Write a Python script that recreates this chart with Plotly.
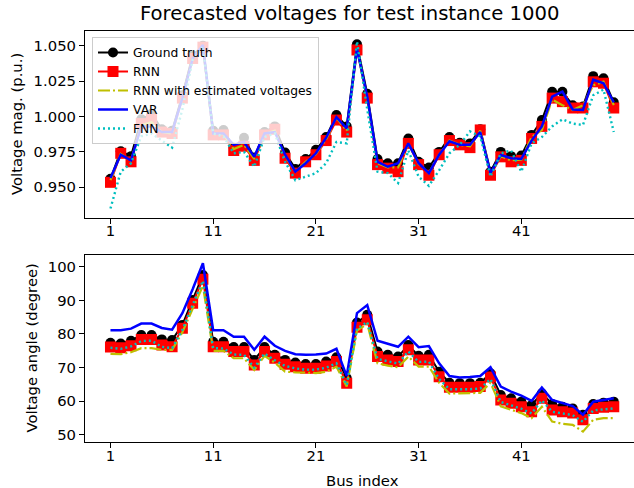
import plotly.graph_objects as go

bus = list(range(1, 51))
x_ticks = [1, 11, 21, 31, 41]
mag_ticks = [0.950, 0.975, 1.000, 1.025, 1.050]
ang_ticks = [50, 60, 70, 80, 90, 100]

gt_mag = [0.956, 0.9755, 0.972, 0.998, 1.002, 0.991, 0.990, 1.015, 1.043, 1.050,
          0.990, 0.9905, 0.978, 0.985, 0.971, 0.989, 0.993, 0.9745, 0.963, 0.970,
          0.9765, 0.9855, 1.001, 0.993, 1.051, 1.016, 0.970, 0.967, 0.967, 0.9845,
          0.968, 0.964, 0.975, 0.9855, 0.9815, 0.981, 0.991, 0.961, 0.975, 0.972,
          0.9725, 0.987, 0.9975, 1.0175, 1.0175, 1.008, 1.007, 1.0285, 1.027, 1.010]
rnn_mag = [0.9535, 0.974, 0.968, 0.995, 0.998, 0.989, 0.988, 1.013, 1.041, 1.049,
           0.987, 0.987, 0.976, 0.979, 0.969, 0.987, 0.991, 0.9705, 0.960, 0.968,
           0.973, 0.983, 0.9975, 0.989, 1.047, 1.013, 0.966, 0.9635, 0.961, 0.981,
           0.966, 0.9585, 0.973, 0.983, 0.980, 0.978, 0.9905, 0.9585, 0.9715, 0.968,
           0.969, 0.9845, 0.993, 1.013, 1.0105, 1.006, 1.006, 1.0245, 1.0235, 1.006]
rnn_est_mag = [0.955, 0.9735, 0.9685, 0.994, 0.996, 0.989, 0.988, 1.013, 1.041, 1.049,
               0.9875, 0.9875, 0.977, 0.980, 0.970, 0.9875, 0.990, 0.972, 0.961, 0.968,
               0.9735, 0.984, 0.999, 0.990, 1.048, 1.013, 0.967, 0.964, 0.964, 0.981,
               0.9665, 0.960, 0.973, 0.983, 0.980, 0.979, 0.990, 0.9595, 0.972, 0.969,
               0.9695, 0.9855, 0.9905, 1.012, 1.008, 1.0046, 1.008, 1.022, 1.0246, 1.008]
var_mag = [0.9565, 0.973, 0.969, 0.993, 0.993, 0.989, 0.989, 1.013, 1.041, 1.0505,
           0.988, 0.988, 0.980, 0.982, 0.9715, 0.988, 0.989, 0.973, 0.961, 0.967,
           0.974, 0.985, 0.9995, 0.9915, 1.048, 1.014, 0.968, 0.9645, 0.967, 0.981,
           0.967, 0.960, 0.973, 0.9825, 0.980, 0.980, 0.989, 0.960, 0.9728, 0.9705,
           0.970, 0.983, 0.993, 1.014, 1.0175, 1.005, 1.0046, 1.026, 1.0235, 1.010]
fnn_mag = [0.935, 0.961, 0.967, 0.986, 0.988, 0.983, 0.978, 1.005, 1.040, 1.049,
           0.988, 0.986, 0.974, 0.975, 0.9645, 0.9855, 0.988, 0.968, 0.955, 0.9575,
           0.960, 0.967, 0.982, 0.981, 1.053, 1.005, 0.961, 0.960, 0.953, 0.976,
           0.9575, 0.951, 0.962, 0.974, 0.980, 0.9895, 0.986, 0.9575, 0.974, 0.976,
           0.961, 0.981, 0.9855, 0.993, 0.998, 0.995, 0.994, 1.015, 1.019, 0.989]

gt_ang = [77.4, 77.2, 78.0, 79.7, 79.7, 78.4, 78.2, 82.7, 90.1, 97.5,
          77.7, 77.7, 76.1, 76.1, 72.3, 76.1, 73.8, 72.3, 71.5, 71.1,
          71.1, 71.8, 73.1, 66.9, 83.4, 85.7, 74.8, 73.8, 73.3, 76.7,
          73.5, 73.8, 68.8, 65.5, 65.4, 65.4, 65.5, 68.3, 61.9, 60.9,
          59.9, 58.9, 62.4, 59.2, 58.4, 57.9, 56.0, 59.2, 59.6, 59.9]
rnn_ang = [76.1, 75.9, 76.5, 78.4, 78.4, 76.7, 76.2, 81.7, 89.1, 96.3,
           76.2, 76.2, 74.8, 74.8, 70.8, 74.8, 72.8, 71.0, 70.3, 69.8,
           69.8, 70.5, 71.8, 65.4, 82.0, 84.2, 73.3, 72.3, 71.8, 75.3,
           72.3, 72.3, 67.3, 64.2, 64.2, 64.2, 64.4, 67.2, 60.4, 59.4,
           58.4, 56.9, 60.9, 57.4, 56.9, 56.5, 54.5, 57.9, 58.2, 58.4]
rnn_est_ang = [74.1, 74.0, 74.6, 75.8, 75.8, 75.3, 75.3, 80.5, 87.5, 94.3,
               75.0, 75.0, 72.8, 72.8, 69.3, 73.5, 71.5, 68.8, 68.6, 68.4,
               68.4, 68.8, 70.3, 64.4, 81.0, 83.0, 71.3, 70.6, 70.1, 73.3,
               70.3, 70.3, 65.5, 62.3, 62.3, 62.3, 62.5, 65.5, 58.5, 57.5,
               56.5, 55.0, 58.4, 54.0, 53.3, 53.0, 51.0, 54.5, 55.0, 55.0]
var_ang = [81.1, 81.1, 81.6, 83.1, 83.1, 81.8, 81.3, 86.2, 93.3, 101.0,
           81.1, 81.1, 79.2, 79.2, 75.3, 79.2, 76.5, 75.0, 74.0, 73.8,
           73.9, 74.2, 75.6, 67.5, 86.2, 88.6, 78.0, 77.2, 76.2, 79.2,
           76.1, 76.4, 71.3, 67.5, 67.1, 67.2, 67.5, 70.1, 64.4, 62.9,
           61.7, 60.1, 64.1, 60.4, 59.6, 58.6, 56.0, 59.9, 60.4, 60.9]
fnn_ang = [75.9, 75.6, 76.3, 77.9, 78.0, 76.2, 75.8, 81.2, 88.6, 95.8,
           75.8, 75.7, 73.9, 73.8, 70.0, 74.2, 72.2, 70.5, 69.8, 69.4,
           69.4, 70.0, 71.3, 64.8, 81.6, 83.6, 72.6, 71.8, 71.2, 74.8,
           71.7, 71.8, 66.6, 63.6, 63.5, 63.6, 63.8, 66.6, 59.8, 58.8,
           57.8, 56.4, 60.3, 56.9, 56.3, 55.9, 53.9, 57.3, 57.6, 57.9]

FONT = "DejaVu Sans"
W, H = 634, 488
ML = 85

fig = go.Figure()

def add_series(xa, ya, gt, rnn, est, var, fnn, show):
    fig.add_trace(go.Scatter(x=bus, y=gt, name="Ground truth", mode="lines+markers",
                             line=dict(color="black", width=2),
                             marker=dict(symbol="circle", size=10, color="black"),
                             xaxis=xa, yaxis=ya, showlegend=show))
    fig.add_trace(go.Scatter(x=bus, y=rnn, name="RNN", mode="lines+markers",
                             line=dict(color="#ff0000", width=2),
                             marker=dict(symbol="square", size=11, color="#ff0000"),
                             xaxis=xa, yaxis=ya, showlegend=show))
    fig.add_trace(go.Scatter(x=bus, y=est, name="RNN with estimated voltages", mode="lines",
                             line=dict(color="#bfbf00", width=2.2, dash="12px,3px,2px,3px"),
                             xaxis=xa, yaxis=ya, showlegend=show))
    fig.add_trace(go.Scatter(x=bus, y=var, name="VAR", mode="lines",
                             line=dict(color="#0000ff", width=2.5),
                             xaxis=xa, yaxis=ya, showlegend=show))
    fig.add_trace(go.Scatter(x=bus, y=fnn, name="FNN", mode="lines",
                             line=dict(color="#00bfbf", width=2.4, dash="2px,3px"),
                             xaxis=xa, yaxis=ya, showlegend=show))

add_series("x", "y", gt_mag, rnn_mag, rnn_est_mag, var_mag, fnn_mag, True)
add_series("x2", "y2", gt_ang, rnn_ang, rnn_est_ang, var_ang, fnn_ang, False)

def ydom(top_px, bot_px):
    return [1 - bot_px / H, 1 - top_px / H]

xr = [-1.48, 51.97]
axis_common = dict(showgrid=False, zeroline=False, showline=True, linecolor="black",
                   linewidth=1.1, ticks="outside", ticklen=5, tickwidth=1.1,
                   tickcolor="black", tickfont=dict(family=FONT, size=14.8, color="black"))

fig.update_layout(
    width=W, height=H,
    margin=dict(l=ML, r=0, t=0, b=0),
    plot_bgcolor="white", paper_bgcolor="white",
    font=dict(family=FONT, color="black"),
    xaxis=dict(domain=[0, 1], range=xr, tickvals=x_ticks, mirror=True, anchor="y",
               ticklabelstandoff=-6, **axis_common),
    yaxis=dict(domain=ydom(31, 218), range=[0.9283, 1.0604], tickvals=mag_ticks,
               tickformat=".3f", anchor="x", **axis_common),
    xaxis2=dict(domain=[0, 1], range=xr, tickvals=x_ticks, mirror=True, anchor="y2",
                ticklabelstandoff=-5, **axis_common),
    yaxis2=dict(domain=ydom(255, 441.7), range=[48.0, 103.47], tickvals=ang_ticks,
                anchor="x2", **axis_common),
    legend=dict(x=(92 - ML) / (W - ML), y=1 - 37 / H, xanchor="left", yanchor="top",
                bgcolor="rgba(255,255,255,0.8)", bordercolor="#cccccc", borderwidth=1,
                font=dict(family=FONT, size=12.3, color="black"), tracegroupgap=0),
    showlegend=True,
)

pw = W - ML
def px_x(p):
    return (p - ML) / pw

fig.add_annotation(text="Forecasted voltages for test instance 1000", xref="paper", yref="paper",
                   x=px_x(349), y=1 - 13 / H, xanchor="center", yanchor="middle", showarrow=False,
                   font=dict(family=FONT, size=19.6, color="black"))
fig.add_annotation(text="Voltage mag. (p.u.)", xref="paper", yref="paper",
                   x=px_x(16.5), y=1 - 124.5 / H, xanchor="center", yanchor="middle", showarrow=False,
                   textangle=-90, font=dict(family=FONT, size=14.8, color="black"))
fig.add_annotation(text="Voltage angle (degree)", xref="paper", yref="paper",
                   x=px_x(31), y=1 - 348.5 / H, xanchor="center", yanchor="middle", showarrow=False,
                   textangle=-90, font=dict(family=FONT, size=14.8, color="black"))
fig.add_annotation(text="Bus index", xref="paper", yref="paper",
                   x=px_x(362), y=1 - 480 / H, xanchor="center", yanchor="middle", showarrow=False,
                   font=dict(family=FONT, size=14.8, color="black"))

fig.write_html("out.html", config={"displayModeBar": False},
               post_script="document.body.style.margin='0px';")
